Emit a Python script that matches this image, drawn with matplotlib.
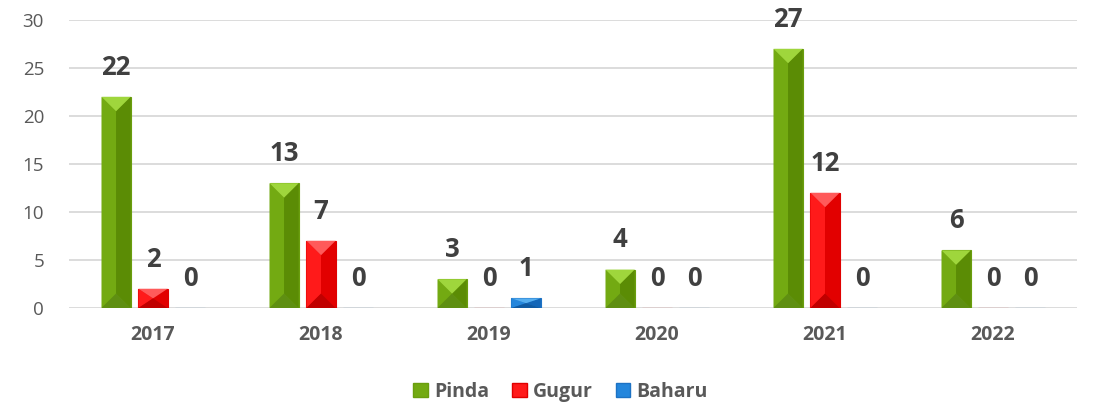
import numpy as np
import matplotlib.pyplot as plt
from matplotlib.patches import Polygon, Patch

# Dados
anos = ["2017", "2018", "2019", "2020", "2021", "2022"]
pinda = [22, 13, 3, 4, 27, 6]
gugur = [2, 7, 0, 0, 12, 0]
baharu = [0, 0, 1, 0, 0, 0]
series = ["Pinda", "Gugur", "Baharu"]

# cores: base, topo, esquerda, direita, baixo
cores = {
    "Pinda": ("#6a9e0e", "#9fd63c", "#73aa12", "#5b8c05", "#5f8f12"),
    "Gugur": ("#e00000", "#ff5a5a", "#ff1a1a", "#e20000", "#c00000"),
    "Baharu": ("#1d72c4", "#55aef0", "#2486dc", "#1366b8", "#0f5aa3"),
}

plt.rcParams['font.family'] = ['Open Sans', 'DejaVu Sans']

fig = plt.figure(figsize=(10.99, 4.05), dpi=100)
ax = fig.add_axes([0.0628, 0.2395, 0.9172, 0.711])

x = np.arange(len(anos))
largura = 0.173
passo = 0.22
bevel = 1.5  # profundidade do chanfro em unidades do eixo y

def chanfro(ax, bar, c):
    x0 = bar.get_x()
    w = bar.get_width()
    h = bar.get_height()
    if h <= 0:
        return
    d = min(bevel, h / 2)
    xm = x0 + w / 2
    ax.add_patch(Polygon([(x0, 0), (xm, d), (xm, h - d), (x0, h)], closed=True,
                         facecolor=c[2], edgecolor="none", zorder=3))
    ax.add_patch(Polygon([(x0 + w, 0), (xm, d), (xm, h - d), (x0 + w, h)], closed=True,
                         facecolor=c[3], edgecolor="none", zorder=3))
    ax.add_patch(Polygon([(x0, h), (x0 + w, h), (xm, h - d)], closed=True,
                         facecolor=c[1], edgecolor="none", zorder=3))
    ax.add_patch(Polygon([(x0, 0), (x0 + w, 0), (xm, d)], closed=True,
                         facecolor=c[4], edgecolor="none", zorder=3))

for i, (nome, valores) in enumerate(zip(series, [pinda, gugur, baharu])):
    c = cores[nome]
    barras = ax.bar(x + (i - 1) * passo, valores, largura, color=c[0],
                    edgecolor=c[0], linewidth=0.8, zorder=2)
    for b, v in zip(barras, valores):
        chanfro(ax, b, c)
        ax.annotate(str(v), xy=(b.get_x() + b.get_width() / 2, v),
                    xytext=(0, 16), textcoords="offset points",
                    ha="center", va="baseline", fontsize=18.5,
                    fontweight="bold", color="#404040", zorder=5)

ax.set_xlim(-0.5, len(anos) - 0.5)
ax.set_ylim(0, 30)
ax.set_yticks(range(0, 31, 5))
ax.set_xticks(x)
ax.set_xticklabels(anos, fontsize=14, fontweight="bold", color="#595959")
ax.tick_params(axis="y", labelsize=13.5, labelcolor="#595959", length=0, pad=18)
ax.tick_params(axis="x", length=0, pad=12)
ax.grid(axis="y", color="#d9d9d9", linewidth=1.3, zorder=0)
ax.set_axisbelow(True)
for s in ax.spines.values():
    s.set_visible(False)

handles = [Patch(facecolor=cores[n][2], edgecolor=cores[n][0], label=n) for n in series]
fig.legend(handles=handles, loc="lower center", bbox_to_anchor=(0.51, -0.035),
           ncol=3, frameon=False, handlelength=0.75, handleheight=0.75,
           handletextpad=0.3, columnspacing=1.2,
           prop={"weight": "bold", "size": 14})
for t in fig.legends[0].get_texts():
    t.set_color("#595959")

fig.savefig("out.png", dpi=100)
